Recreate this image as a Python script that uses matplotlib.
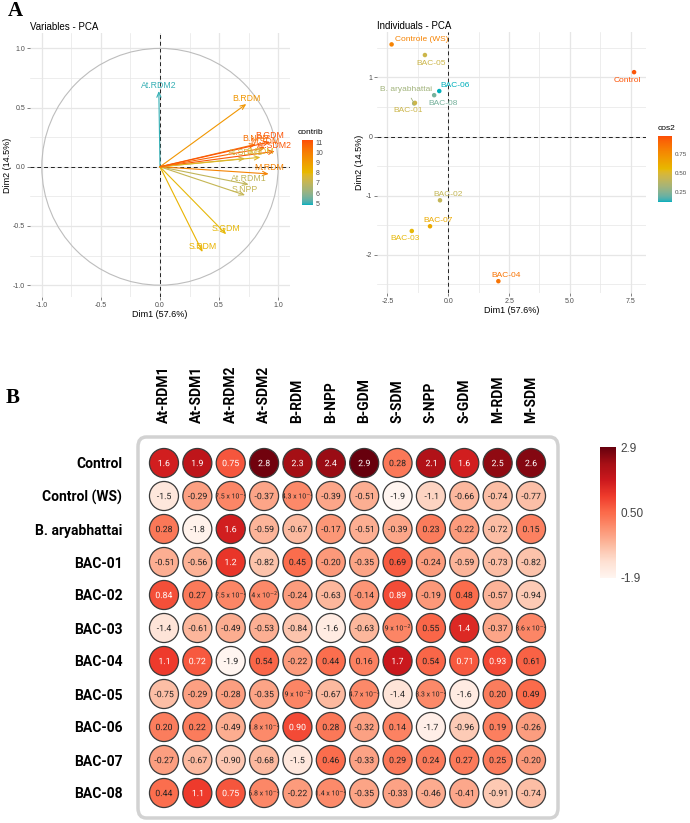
import numpy as np
import matplotlib
matplotlib.use('Agg')
import matplotlib.pyplot as plt
from matplotlib.colors import ListedColormap, Normalize, to_rgb
from matplotlib.patches import Circle, Ellipse, FancyBboxPatch, PathPatch
from matplotlib.textpath import TextPath
from matplotlib.font_manager import FontProperties
from matplotlib.transforms import Affine2D, IdentityTransform
from matplotlib.ticker import MultipleLocator
import matplotlib as mpl

# ---------------- data ----------------
var_names = ['At.RDM1', 'At.SDM1', 'At.RDM2', 'At.SDM2', 'B.RDM', 'B.NPP',
             'B.GDM', 'S.SDM', 'S.NPP', 'S.GDM', 'S.RDM', 'M.RDM', 'M.SDM']
var_dim1 = [0.75, 0.72, -0.01, 0.97, 0.73, 0.81, 0.93, 0.85, 0.72, 0.56, 0.36, 0.92, 0.89]
var_dim2 = [-0.15, 0.07, 0.64, 0.13, 0.53, 0.19, 0.21, 0.08, -0.24, -0.57, -0.72, -0.06, 0.16]
var_contrib = [7.0, 7.3, 5.0, 11.0, 9.2, 10.3, 11.1, 7.8, 7.1, 8.0, 8.2, 9.8, 10.6]

ind_names = ['Control', 'Controle (WS)', 'B. aryabhattai', 'BAC-01', 'BAC-02', 'BAC-03',
             'BAC-04', 'BAC-05', 'BAC-06', 'BAC-07', 'BAC-08']
ind_dim1 = [7.64, -2.33, -1.40, -1.37, -0.34, -1.50, 2.06, -0.96, -0.37, -0.75, -0.58]
ind_dim2 = [1.09, 1.56, 0.56, 0.57, -1.08, -1.60, -2.45, 1.38, 0.77, -1.52, 0.70]
ind_cos2 = [0.97, 0.80, 0.32, 0.45, 0.42, 0.55, 0.86, 0.45, 0.12, 0.62, 0.22]
# label offsets in pixels (right, down)
ind_off = [(-7, 8), (30, -5), (-8, -14), (-7, 8), (8, -6), (-7, 8),
           (8, -6), (6, 8), (16, -6), (8, -6), (9, 8)]

hm_cols = ['At-RDM1', 'At-SDM1', 'At-RDM2', 'At-SDM2', 'B-RDM', 'B-NPP',
           'B-GDM', 'S-SDM', 'S-NPP', 'S-GDM', 'M-RDM', 'M-SDM']
hm_rows = ['Control', 'Control (WS)', 'B. aryabhattai', 'BAC-01', 'BAC-02', 'BAC-03',
           'BAC-04', 'BAC-05', 'BAC-06', 'BAC-07', 'BAC-08']
hm_vals = [
    [1.6, 1.9, 0.75, 2.8, 2.3, 2.4, 2.9, 0.28, 2.1, 1.6, 2.5, 2.6],
    [-1.5, -0.29, 0.075, -0.37, 0.043, -0.39, -0.51, -1.9, -1.1, -0.66, -0.74, -0.77],
    [0.28, -1.8, 1.6, -0.59, -0.67, -0.17, -0.51, -0.39, 0.23, -0.22, -0.72, 0.15],
    [-0.51, -0.56, 1.2, -0.82, 0.45, -0.20, -0.35, 0.69, -0.24, -0.59, -0.73, -0.82],
    [0.84, 0.27, 0.075, 0.04, -0.24, -0.63, -0.14, 0.89, -0.19, 0.48, -0.57, -0.94],
    [-1.4, -0.61, -0.49, -0.53, -0.84, -1.6, -0.63, 0.09, 0.55, 1.4, -0.37, 0.086],
    [1.1, 0.72, -1.9, 0.54, -0.22, 0.44, 0.16, 1.7, 0.54, 0.71, 0.93, 0.61],
    [-0.75, -0.29, -0.28, -0.35, 0.09, -0.67, 0.047, -1.4, 0.033, -1.6, 0.20, 0.49],
    [0.20, 0.22, -0.49, 0.018, 0.90, 0.28, -0.32, 0.14, -1.7, -0.96, 0.19, -0.26],
    [-0.27, -0.67, -0.90, -0.68, -1.5, 0.46, -0.33, 0.29, 0.24, 0.27, 0.25, -0.20],
    [0.44, 1.1, 0.75, 0.068, -0.22, 0.014, -0.35, -0.33, -0.46, -0.41, -0.91, -0.74],
]

W, H = 690, 823
DPI = 100
def box(x0, y0, x1, y1):
    # pixel box (top-left origin) -> figure rect
    return [x0 / W, 1 - y1 / H, (x1 - x0) / W, (y1 - y0) / H]

# ggplot-like gradient, interpolated in Lab space
def _to_lab(rgb):
    c = np.array(rgb)
    c = np.where(c <= 0.04045, c / 12.92, ((c + 0.055) / 1.055) ** 2.4)
    M = np.array([[0.4124, 0.3576, 0.1805], [0.2126, 0.7152, 0.0722], [0.0193, 0.1192, 0.9505]])
    xyz = M @ c / np.array([0.95047, 1.0, 1.08883])
    f = np.where(xyz > 0.008856, np.cbrt(xyz), 7.787 * xyz + 16 / 116)
    return np.array([116 * f[1] - 16, 500 * (f[0] - f[1]), 200 * (f[1] - f[2])])

def _from_lab(lab):
    fy = (lab[0] + 16) / 116
    f = np.array([fy + lab[1] / 500, fy, fy - lab[2] / 200])
    xyz = np.where(f ** 3 > 0.008856, f ** 3, (f - 16 / 116) / 7.787) * np.array([0.95047, 1.0, 1.08883])
    Mi = np.array([[3.2406, -1.5372, -0.4986], [-0.9689, 1.8758, 0.0415], [0.0557, -0.2040, 1.0570]])
    c = Mi @ xyz
    c = np.where(c <= 0.0031308, 12.92 * c, 1.055 * np.clip(c, 0, None) ** (1 / 2.4) - 0.055)
    return np.clip(c, 0, 1)

def lab_cmap(colors, n=256):
    labs = [_to_lab(to_rgb(c)) for c in colors]
    out = []
    for t in np.linspace(0, 1, n):
        k = min(int(t * (len(labs) - 1)), len(labs) - 2)
        u = t * (len(labs) - 1) - k
        out.append(_from_lab(labs[k] * (1 - u) + labs[k + 1] * u))
    return ListedColormap(out)

plt.rcParams['font.family'] = ['Liberation Sans', 'DejaVu Sans']
plt.rcParams['axes.unicode_minus'] = False
fig = plt.figure(figsize=(W / DPI, H / DPI), dpi=DPI)

grad = lab_cmap(['#00AFBB', '#E7B800', '#FC4E07'])
tick_col = '#4D4D4D'
grid_col = '#E6E6E6'

def style_pca(ax):
    for s in ax.spines.values():
        s.set_visible(False)
    ax.grid(True, which='major', color=grid_col, lw=0.9)
    ax.grid(True, which='minor', color=grid_col, lw=0.5)
    ax.set_axisbelow(True)
    ax.tick_params(which='major', length=2, width=0.5, color=tick_col,
                   labelsize=5, labelcolor=tick_col, pad=1.5)
    ax.tick_params(which='minor', length=0)
    ax.axhline(0, color='#222222', ls=(0, (4, 3)), lw=0.7, zorder=1)
    ax.axvline(0, color='#222222', ls=(0, (4, 3)), lw=0.7, zorder=1)
    ax.set_xlabel('Dim1 (57.6%)', fontsize=6.5, labelpad=1)
    ax.set_ylabel('Dim2 (14.5%)', fontsize=6.5, labelpad=1)

# ---------------- Variables - PCA ----------------
ax1 = fig.add_axes(box(30, 33, 290, 297))
style_pca(ax1)
ax1.set_xlim(-1.10, 1.10)
ax1.set_ylim(-1.10, 1.13)
ax1.xaxis.set_major_locator(MultipleLocator(0.5))
ax1.xaxis.set_minor_locator(MultipleLocator(0.25))
ax1.yaxis.set_major_locator(MultipleLocator(0.5))
ax1.yaxis.set_minor_locator(MultipleLocator(0.25))
ax1.add_patch(Circle((0, 0), 1, fill=False, ec='#BDBDBD', lw=0.8, zorder=2))
cnorm = Normalize(4.85, 11.2)
for n, x, y, c in zip(var_names, var_dim1, var_dim2, var_contrib):
    col = grad(cnorm(c))
    ax1.annotate('', xy=(x, y), xytext=(0, 0),
                 arrowprops=dict(arrowstyle='->,head_length=0.35,head_width=0.15',
                                 color=col, lw=0.8, shrinkA=0, shrinkB=0), zorder=3)
    ax1.annotate(n, xy=(x, y), xytext=(0, 6), textcoords='offset pixels',
                 ha='center', va='center', fontsize=6.3, color=col, zorder=4)
ax1.set_title('Variables - PCA', fontsize=7, loc='left', pad=2)

cax1 = fig.add_axes(box(302, 140, 313, 205))
cb1 = mpl.colorbar.ColorbarBase(cax1, cmap=grad, norm=cnorm, ticks=range(5, 12))
cb1.outline.set_visible(False)
cax1.tick_params(length=0, labelsize=5, labelcolor=tick_col, pad=2)
fig.text(298 / W, 1 - 133 / H, 'contrib', fontsize=6, va='center')

# ---------------- Individuals - PCA ----------------
ax2 = fig.add_axes(box(377, 32, 646, 293))
style_pca(ax2)
ax2.set_xlim(-2.93, 8.13)
ax2.set_ylim(-2.65, 1.77)
ax2.xaxis.set_major_locator(MultipleLocator(2.5))
ax2.xaxis.set_minor_locator(MultipleLocator(1.25))
ax2.yaxis.set_major_locator(MultipleLocator(1))
ax2.yaxis.set_minor_locator(MultipleLocator(0.5))
qnorm = Normalize(0.12, 0.99)
ax2.scatter(ind_dim1, ind_dim2, c=ind_cos2, cmap=grad, norm=qnorm, s=5, zorder=3)
for n, x, y, q, (dx, dy) in zip(ind_names, ind_dim1, ind_dim2, ind_cos2, ind_off):
    col = grad(qnorm(q))
    props = None
    if n == 'B. aryabhattai':
        props = dict(arrowstyle='-', color=col, lw=0.6, shrinkA=2, shrinkB=1)
    ax2.annotate(n, xy=(x, y), xytext=(dx, -dy), textcoords='offset pixels',
                 ha='center', va='center', fontsize=6, color=col, zorder=4,
                 arrowprops=props)
ax2.set_title('Individuals - PCA', fontsize=7, loc='left', pad=2)

cax2 = fig.add_axes(box(658, 136, 672, 202))
cb2 = mpl.colorbar.ColorbarBase(cax2, cmap=grad, norm=qnorm, ticks=[0.25, 0.5, 0.75])
cb2.outline.set_visible(False)
cax2.set_yticklabels(['0.25', '0.50', '0.75'])
cax2.tick_params(length=0, labelsize=4.5, labelcolor=tick_col, pad=2)
fig.text(658 / W, 1 - 129 / H, 'cos2', fontsize=6, va='center')

# ---------------- heatmap ----------------
fig.patches.append(FancyBboxPatch((138 / W, 1 - 818 / H), 420 / W, 381 / H,
                                  boxstyle='round,pad=0,rounding_size=0.012',
                                  transform=fig.transFigure, fc='none',
                                  ec='#D2D2D2', lw=2.5, zorder=-1))
ax3 = fig.add_axes(box(147.3, 446.5, 547.7, 809.5))
ax3.set_xlim(-0.5, len(hm_cols) - 0.5)
ax3.set_ylim(len(hm_rows) - 0.5, -0.5)
ax3.patch.set_visible(False)
for s in ax3.spines.values():
    s.set_visible(False)
hnorm = Normalize(-1.9, 2.9)
reds = plt.get_cmap('Reds')

def fmt(v):
    if abs(v) < 0.1:
        e = int(np.floor(np.log10(abs(v))))
        return f'{v / 10**e:.2g} x 10$^{{{e}}}$'
    if abs(v) >= 1:
        return f'{v:.2g}'
    return f'{v:.2f}'

cell_font = FontProperties(family='Roboto')
cell_size = 6.3  # points
ref = TextPath((0, 0), '0', size=cell_size, prop=cell_font).get_extents()

for i, row in enumerate(hm_vals):
    for j, v in enumerate(row):
        ell = Ellipse((j, i), 0.87, 0.88, fc=reds(hnorm(v)), ec='#3A3A3A', lw=0.9)
        ax3.add_patch(ell)
        size = cell_size if abs(v) >= 0.1 else 5.0
        tp = TextPath((0, 0), fmt(v), size=size, prop=cell_font)
        ext = tp.get_extents()
        cy = (ref.y0 + ref.y1) / 2 * size / cell_size
        px, py = ax3.transData.transform((j, i))
        tr = Affine2D().translate(-(ext.x0 + ext.x1) / 2, -cy).scale(DPI / 72).translate(px, py)
        pp = PathPatch(tp, transform=tr + IdentityTransform(), lw=0, ec='none',
                       fc='white' if v >= 0.7 else '#222222', zorder=3)
        ax3.add_artist(pp)
        pp.set_clip_path(ell)

ax3.xaxis.tick_top()
ax3.set_xticks(range(len(hm_cols)))
ax3.set_xticklabels(hm_cols, rotation=90, fontsize=10, fontweight='bold',
                    family=['Roboto', 'DejaVu Sans'], va='bottom')
ax3.set_yticks(range(len(hm_rows)))
ax3.set_yticklabels(hm_rows, fontsize=10, fontweight='bold',
                    family=['Roboto', 'DejaVu Sans'])
ax3.tick_params(length=0)
ax3.tick_params(axis='x', pad=17)
ax3.tick_params(axis='y', pad=18)

cax3 = fig.add_axes(box(600, 447, 616, 578))
cb3 = mpl.colorbar.ColorbarBase(cax3, cmap=reds, norm=hnorm, ticks=[-1.9, 0.5, 2.9])
cb3.outline.set_visible(False)
cax3.set_yticklabels(['-1.9', '0.50', '2.9'])
cax3.tick_params(length=0, labelsize=8.5, labelcolor='#444444', pad=3)

# panel letters
fig.text(8 / W, 1 - 11 / H, 'A', fontsize=15, fontweight='bold',
         family='Liberation Serif', va='center')
fig.text(6 / W, 1 - 398 / H, 'B', fontsize=15, fontweight='bold',
         family='Liberation Serif', va='center')

fig.savefig('out.png', dpi=DPI)
